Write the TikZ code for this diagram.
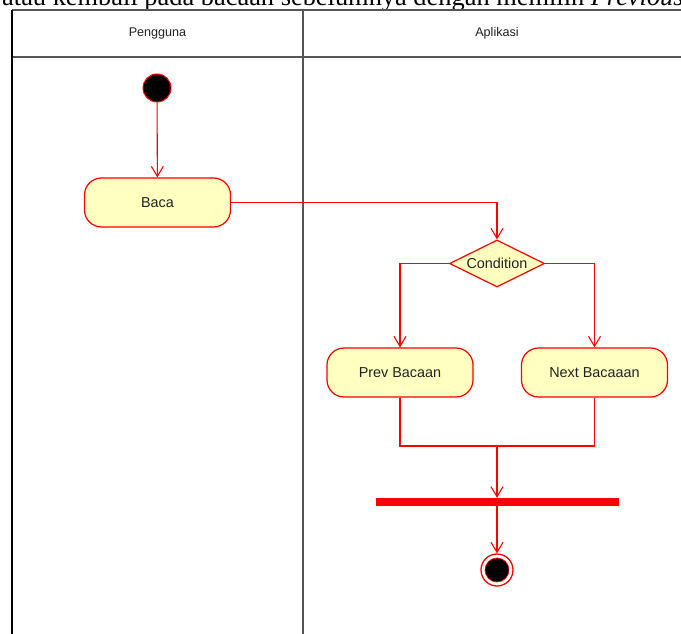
\documentclass[tikz,border=0pt]{standalone}
\usepackage{fontspec}
\setmainfont{Liberation Sans}
\newfontfamily\serifdoc{Liberation Serif}
\usetikzlibrary{arrows.meta,shapes.geometric}
\definecolor{actfill}{HTML}{FFFFC0}
\definecolor{umlred}{HTML}{FF0000}
\definecolor{lanegray}{HTML}{555555}
\definecolor{txt}{HTML}{222222}
\tikzset{
  act/.style={draw=umlred, fill=actfill, line width=1.2pt, rounded corners=17pt,
    minimum width=146pt, minimum height=49pt, inner sep=0pt, text=txt,
    font=\fontsize{14.4}{17}\selectfont},
  decision/.style={draw=umlred, fill=actfill, line width=1.2pt, diamond, aspect=2,
    minimum width=95pt, minimum height=47pt, inner sep=0pt, text=txt,
    font=\fontsize{14.4}{17}\selectfont},
  flow/.style={draw=umlred, line width=1.1pt, -{Straight Barb[length=10pt,width=12pt,line width=1.1pt]}},
  plainflow/.style={draw=umlred, line width=1.1pt},
  lane/.style={draw=lanegray, line width=1.2pt},
  lanehead/.style={font=\fontsize{12.6}{15}\selectfont, text=txt},
}
\begin{document}
\begin{tikzpicture}[x=1pt,y=-1pt]
\useasboundingbox (0,0) rectangle (681,634);
\clip (0,0) rectangle (681,634);
\fill[white] (0,0) rectangle (681,634);
% cropped text line of the surrounding document
\node[anchor=base west, inner sep=0pt, font=\serifdoc\fontsize{26.4}{30}\selectfont] (doctext) at (2,5.5)
  {atau kembali pada bacaan sebelumnya dengan memilih \textit{Previous}};
% pool
\draw[lane] (12,10) -- (681,10);
\draw[lane] (12,57) -- (681,57);
\draw[draw=black, line width=1.5pt] (12,10) -- (12,634);
\draw[lane] (303,10) -- (303,634);
\node[lanehead] (h1) at (157.5,33) {Pengguna};
\node[lanehead] (h2) at (497,33) {Aplikasi};
% nodes
\node[circle, draw=umlred, fill=black, line width=1pt, minimum size=28pt, inner sep=0pt] (start) at (157,88) {};
\node[act] (baca) at (157.5,202.5) {Baca};
\node[decision] (cond) at (497,263.5) {Condition};
\node[act] (prev) at (400,372.5) {Prev Bacaan};
\node[act] (next) at (594.5,372.5) {Next Bacaaan};
\node[draw=umlred, fill=umlred, minimum width=242pt, minimum height=7pt, inner sep=0pt] (bar) at (497,501.5) {};
\node[circle, draw=umlred, line width=1.3pt, minimum size=32pt, inner sep=0pt] (end) at (497,570) {};
\fill[black, draw=umlred, line width=0.6pt] (end.center) circle (12);
\coordinate (join) at (497,446);
% connectors
\draw[flow] (start) -- (baca);
\draw[flow] (baca.east) -| (cond.north);
\draw[flow] (cond.west) -| (prev.north);
\draw[flow] (cond.east) -| (next.north);
\draw[plainflow] (prev.south) |- (join) -| (next.south);
\draw[flow] (join) -- (bar.north);
\draw[flow] (bar.south) -- (end.north);
\end{tikzpicture}
\end{document}
